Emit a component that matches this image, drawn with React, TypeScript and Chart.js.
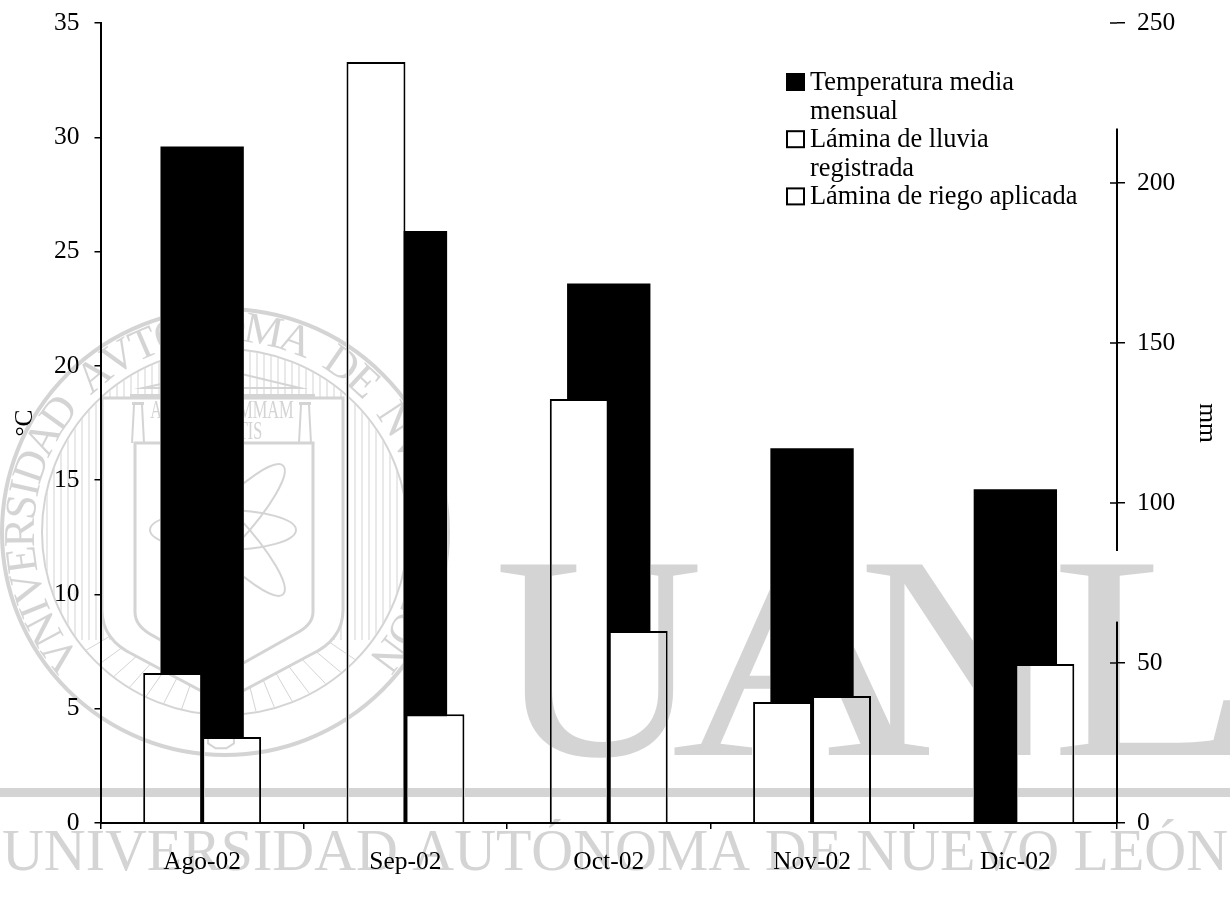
import React, { useEffect, useRef } from "react";
import { Chart, registerables } from "chart.js";

Chart.register(...registerables);

const months = ["Ago-02", "Sep-02", "Oct-02", "Nov-02", "Dic-02"];
const temperatura = [29.6, 25.9, 23.6, 16.4, 14.6];
const lluvia = [46.9, 237.8, 132.5, 37.8, 0];
const riego = [26.9, 34, 60, 39.7, 49.7];
const legendRows = [
  { lines: ["Temperatura media", "mensual"], fill: "#000" },
  { lines: ["Lámina de lluvia", "registrada"], fill: "#fff" },
  { lines: ["Lámina de riego aplicada"], fill: "#fff" },
];
const rightAxisSegments = [[217, 85], [63, 0]];
const FONT = '"Liberation Serif"';
const WM = "#d4d4d4";
const sealText = "VNIVERSIDAD AVTONOMA DE NVEVO LEON";
const bigLetters = [
  { ch: "U", left: 499, width: 199 },
  { ch: "A", left: 671, width: 259 },
  { ch: "N", left: 863, width: 192 },
  { ch: "L", left: 1056, width: 182 },
];

function drawSeal(ctx: CanvasRenderingContext2D) {
  const cx = 225, cy = 532;
  ctx.strokeStyle = WM;
  ctx.fillStyle = WM;
  ctx.lineWidth = 4;
  ctx.beginPath(); ctx.arc(cx, cy, 223, 0, Math.PI * 2); ctx.stroke();
  ctx.lineWidth = 2;
  ctx.beginPath(); ctx.arc(cx, cy, 183, 0, Math.PI * 2); ctx.stroke();

  const shieldOuter = (c: CanvasRenderingContext2D | Path2D) => {
    c.moveTo(102, 398); c.lineTo(343, 398); c.lineTo(343, 610);
    c.quadraticCurveTo(343, 640, 310, 655); c.lineTo(222, 702); c.lineTo(134, 655);
    c.quadraticCurveTo(102, 640, 102, 610); c.closePath();
  };
  ctx.save();
  const clip = new Path2D();
  clip.arc(cx, cy, 182, 0, Math.PI * 2);
  shieldOuter(clip);
  ctx.clip(clip, "evenodd");
  ctx.lineWidth = 1;
  for (let x = 40; x <= 410; x += 7) {
    ctx.beginPath(); ctx.moveTo(x, 340); ctx.lineTo(x, 640); ctx.stroke();
  }
  for (let a = -50; a <= 50; a += 6) {
    const r = (a * Math.PI) / 180;
    ctx.beginPath();
    ctx.moveTo(cx + 90 * Math.sin(r), cy + 120 * Math.cos(r));
    ctx.lineTo(cx + 190 * Math.sin(r), cy + 190 * Math.cos(r));
    ctx.stroke();
  }
  ctx.restore();

  ctx.lineWidth = 3;
  ctx.beginPath(); shieldOuter(ctx); ctx.stroke();
  ctx.beginPath();
  ctx.moveTo(135, 443); ctx.lineTo(313, 443); ctx.lineTo(313, 612);
  ctx.quadraticCurveTo(313, 625, 295, 634); ctx.lineTo(222, 675); ctx.lineTo(150, 634);
  ctx.quadraticCurveTo(135, 625, 135, 612); ctx.closePath(); ctx.stroke();

  // temple
  ctx.lineWidth = 2;
  ctx.beginPath(); ctx.moveTo(143, 388); ctx.lineTo(225, 370); ctx.lineTo(300, 388); ctx.closePath(); ctx.stroke();
  ctx.fillStyle = WM;
  ctx.beginPath(); ctx.rect(130, 394, 185, 5); ctx.fill();
  [138, 305].forEach((c) => {
    ctx.beginPath(); ctx.rect(c - 6, 402, 12, 3); ctx.fill();
    ctx.beginPath();
    ctx.moveTo(c - 4, 405); ctx.lineTo(c - 6, 443);
    ctx.moveTo(c + 4, 405); ctx.lineTo(c + 6, 443);
    ctx.stroke();
  });
  ctx.textAlign = "center";
  ctx.textBaseline = "alphabetic";
  ctx.save();
  ctx.translate(222, 418);
  ctx.scale(0.63, 1);
  ctx.font = `26px ${FONT}`;
  ctx.fillText("ALERE FLAMMAM", 0, 0);
  ctx.restore();
  ctx.save();
  ctx.translate(222, 439);
  ctx.scale(0.62, 1);
  ctx.font = `26px ${FONT}`;
  ctx.fillText("VERITATIS", 0, 0);
  ctx.restore();

  // atom
  ctx.lineWidth = 2;
  ctx.beginPath(); ctx.ellipse(223, 530, 73, 20, 0, 0, Math.PI * 2); ctx.stroke();
  [(47 * Math.PI) / 180, (-47 * Math.PI) / 180].forEach((rot) => {
    ctx.beginPath(); ctx.ellipse(223, 530, 88, 20, rot, 0, Math.PI * 2); ctx.stroke();
  });
  ctx.beginPath();
  for (let i = 0; i < 8; i++) {
    const a = (i * Math.PI) / 4 + Math.PI / 8;
    const px = 221 + 14 * Math.cos(a), py = 740 + 9 * Math.sin(a);
    if (i === 0) ctx.moveTo(px, py); else ctx.lineTo(px, py);
  }
  ctx.closePath(); ctx.stroke();

  // ring lettering, spaced by glyph width
  ctx.font = `44px ${FONT}`;
  ctx.textAlign = "center";
  ctx.textBaseline = "alphabetic";
  const chars = sealText.split("");
  const widths = chars.map((c) => ctx.measureText(c === " " ? "  " : c).width + 1.5);
  const sum = widths.reduce((a, b) => a + b, 0);
  const total = 262;
  let run = 0;
  chars.forEach((ch, i) => {
    const deg = -total / 2 + (total * (run + widths[i] / 2)) / sum;
    run += widths[i];
    ctx.save();
    ctx.translate(cx, cy);
    ctx.rotate((deg * Math.PI) / 180);
    ctx.fillText(ch, 0, -191);
    ctx.restore();
  });
}

const watermark = {
  id: "watermark",
  beforeDraw(chart: any) {
    const { ctx, width, height } = chart;
    ctx.save();
    ctx.fillStyle = "#fff";
    ctx.fillRect(0, 0, width, height);
    ctx.restore();
  },
  afterDraw(chart: any) {
    const { ctx, width } = chart;
    ctx.save();
    ctx.globalCompositeOperation = "darken";
    drawSeal(ctx);
    ctx.fillStyle = WM;
    ctx.textAlign = "left";
    ctx.textBaseline = "alphabetic";
    ctx.font = `291px ${FONT}`;
    bigLetters.forEach(({ ch, left, width: w }) => {
      const m = ctx.measureText(ch);
      const glyphW = m.actualBoundingBoxRight + m.actualBoundingBoxLeft;
      const sx = w / glyphW;
      ctx.save();
      ctx.translate(left + m.actualBoundingBoxLeft * sx, 755);
      ctx.scale(sx, 1);
      ctx.fillText(ch, 0, 0);
      ctx.restore();
    });
    ctx.fillRect(0, 788, width, 9);
    const line = "UNIVERSIDAD AUTÓNOMA DE NUEVO LEÓN";
    ctx.save();
    ctx.font = `60px ${FONT}`;
    const w = ctx.measureText(line).width;
    ctx.translate(2, 870);
    ctx.scale(1226 / w, 1);
    ctx.fillText(line, 0, 0);
    ctx.restore();
    ctx.restore();
  },
};

const rightAxisAndLegend = {
  id: "rightAxisAndLegend",
  afterDatasetsDraw(chart: any) {
    const { ctx } = chart;
    const y2 = chart.scales.y2;
    const x = y2.left;
    ctx.save();
    ctx.strokeStyle = "#000";
    ctx.lineWidth = 2;
    rightAxisSegments.forEach(([a, b]) => {
      ctx.beginPath();
      ctx.moveTo(x, y2.getPixelForValue(a));
      ctx.lineTo(x, y2.getPixelForValue(b));
      ctx.stroke();
    });
    ctx.lineWidth = 1.5;
    y2.ticks.forEach((t: any) => {
      const y = y2.getPixelForValue(t.value);
      ctx.beginPath(); ctx.moveTo(x - 7, y); ctx.lineTo(x, y); ctx.stroke();
    });
    ctx.font = `26.4px ${FONT}`;
    ctx.textAlign = "left";
    ctx.textBaseline = "middle";
    let y = 82;
    legendRows.forEach((row) => {
      ctx.fillStyle = row.fill;
      ctx.strokeStyle = "#000";
      ctx.lineWidth = 2;
      ctx.fillRect(787, y - 8, 17, 16);
      ctx.strokeRect(787, y - 8, 17, 16);
      ctx.fillStyle = "#000";
      row.lines.forEach((l) => {
        ctx.fillText(l, 810, y + 1);
        y += 28.6;
      });
    });
    ctx.restore();
  },
};

export default function App() {
  const ref = useRef<HTMLCanvasElement>(null);
  useEffect(() => {
    const tickFont = { family: FONT, size: 25.5 };
    const chart = new Chart(ref.current as HTMLCanvasElement, {
      type: "bar",
      data: {
        labels: months,
        datasets: [
          { label: "Temperatura media mensual", data: temperatura, yAxisID: "y", order: 2, grouped: false, backgroundColor: "#000", barPercentage: 0.41, categoryPercentage: 1 },
          { label: "Lámina de lluvia registrada", data: lluvia, yAxisID: "y2", order: 1, backgroundColor: "#fff", borderColor: "#000", borderWidth: 2, barPercentage: 1, categoryPercentage: 0.58 },
          { label: "Lámina de riego aplicada", data: riego, yAxisID: "y2", order: 1, backgroundColor: "#fff", borderColor: "#000", borderWidth: 2, barPercentage: 1, categoryPercentage: 0.58 },
        ],
      },
      options: {
        responsive: false,
        animation: false,
        layout: { padding: { top: 23 } },
        plugins: { legend: { display: false }, tooltip: { enabled: false } },
        scales: {
          x: {
            offset: true,
            grid: { offset: true, drawOnChartArea: false, color: "#000", tickLength: 6, lineWidth: 1.5 },
            border: { color: "#000", width: 2 },
            ticks: { color: "#000", font: tickFont, padding: 18, maxRotation: 0, autoSkip: false },
            afterFit: (s: any) => { s.height = 89; s.paddingLeft = 0; s.paddingRight = 0; },
          },
          y: {
            position: "left", min: 0, max: 35,
            ticks: { stepSize: 5, color: "#000", font: tickFont, padding: 15 },
            grid: { drawOnChartArea: false, color: "#000", tickLength: 6, lineWidth: 1.5 },
            border: { color: "#000", width: 2 },
            title: { display: true, text: "°C", color: "#000", font: tickFont, padding: { top: 10, bottom: 0 } },
            afterFit: (s: any) => { s.width = 100.5; s.paddingTop = 0; s.paddingBottom = 0; },
          },
          y2: {
            position: "right", min: 0, max: 250,
            ticks: { stepSize: 50, color: "#000", font: tickFont, padding: 12 },
            grid: { drawOnChartArea: false, color: "#000", tickLength: 8, lineWidth: 1.5 },
            border: { display: false },
            title: { display: true, text: "mm", color: "#000", font: tickFont, padding: { top: 8, bottom: 0 } },
            afterFit: (s: any) => { s.width = 113; s.paddingTop = 0; s.paddingBottom = 0; },
          },
        },
      } as any,
      plugins: [watermark, rightAxisAndLegend],
    });
    return () => chart.destroy();
  }, []);
  return (
    <div style={{ position: "absolute", left: 0, top: 0, width: 1230, height: 912, background: "#fff" }}>
      <canvas ref={ref} width={1230} height={912} style={{ display: "block" }} />
    </div>
  );
}
